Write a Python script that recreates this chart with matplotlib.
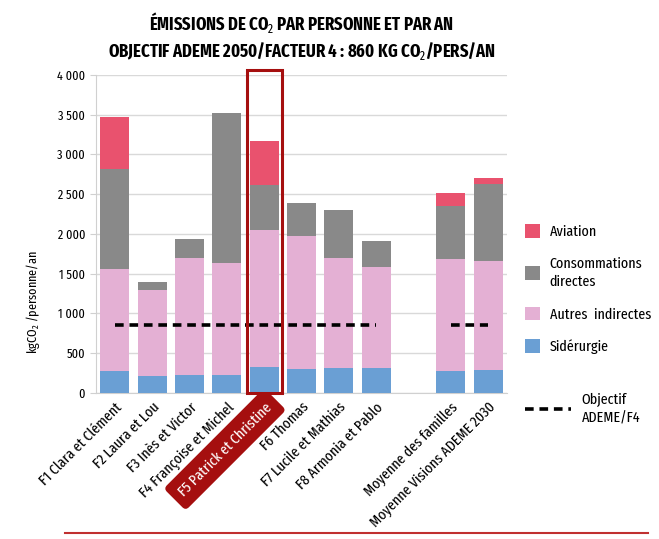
import matplotlib
matplotlib.use("Agg")
import matplotlib.pyplot as plt
from matplotlib.patches import Rectangle
from matplotlib.lines import Line2D
from matplotlib.ticker import FuncFormatter

FONT = "Fira Sans Extra Condensed"
plt.rcParams['font.family'] = [FONT, 'DejaVu Sans']
plt.rcParams['mathtext.fontset'] = 'custom'
plt.rcParams['mathtext.rm'] = FONT
plt.rcParams['mathtext.it'] = FONT
plt.rcParams['mathtext.bf'] = FONT + ':bold'

categories = ["F1 Clara et Clément", "F2 Laura et Lou", "F3 Inès et Victor",
              "F4 Françoise et Michel", "F5 Patrick et Christine", "F6 Thomas",
              "F7 Lucile et Mathias", "F8 Armonia et Pablo", "",
              "Moyenne des familles", "Moyenne Visions ADEME 2030"]
siderurgie = [280, 215, 225, 225, 330, 300, 315, 315, 0, 275, 290]
autres = [1280, 1080, 1470, 1405, 1725, 1680, 1385, 1270, 0, 1410, 1370]
consommations = [1255, 100, 235, 1890, 565, 410, 600, 325, 0, 670, 970]
aviation = [650, 0, 0, 0, 545, 0, 0, 0, 0, 155, 75]
objectif = [860, 860, 860, 860, 860, 860, 860, 860, None, 860, 860]

c_sid = "#6A9FD4"
c_aut = "#E4B0D4"
c_con = "#898989"
c_avi = "#E9526E"
c_red = "#A50F0F"

fig = plt.figure(figsize=(6.59, 5.39), dpi=100)
ax = fig.add_axes([0.146, 0.271, 0.623, 0.590])

x = list(range(len(categories)))
w = 0.78
b1 = siderurgie
b2 = [a + b for a, b in zip(b1, autres)]
b3 = [a + b for a, b in zip(b2, consommations)]
ax.bar(x, siderurgie, w, color=c_sid, label="Sidérurgie", zorder=3)
ax.bar(x, autres, w, bottom=b1, color=c_aut, label="Autres  indirectes", zorder=3)
ax.bar(x, consommations, w, bottom=b2, color=c_con, label="Consommations\ndirectes", zorder=3)
ax.bar(x, aviation, w, bottom=b3, color=c_avi, label="Aviation", zorder=3)

# objective line (gap at empty category)
seg1 = [(i, v) for i, v in enumerate(objectif[:8])]
seg2 = [(i + 9, v) for i, v in enumerate(objectif[9:])]
for k, seg in enumerate([seg1, seg2]):
    ax.plot([p[0] for p in seg], [p[1] for p in seg], color="black", lw=2.6,
            dashes=(2.4, 1.6), zorder=5, label="Objectif\nADEME/F4" if k == 0 else None)

ax.set_xlim(-0.5, 10.5)
ax.set_ylim(0, 4000)
ax.set_yticks(range(0, 4001, 500))
ax.yaxis.set_major_formatter(FuncFormatter(lambda v, p: f"{int(v):,}".replace(",", " ")))
ax.grid(axis="y", color="#D9D9D9", lw=1, zorder=0)
ax.set_axisbelow(True)
for s in ["top", "right"]:
    ax.spines[s].set_visible(False)
ax.spines["left"].set_color("#D0D0D0")
ax.spines["bottom"].set_color("#D0D0D0")
ax.tick_params(axis="y", length=4, color="#D0D0D0", labelsize=9.5, pad=4)
ax.tick_params(axis="x", length=0, labelsize=11, pad=5)
ax.set_ylabel(r"kgCO$_2$ /personne/an", fontsize=9.5)
ax.yaxis.set_label_coords(-0.131, 0.286)

ax.set_xticks(x)
ax.set_xticklabels(categories, rotation=45, ha="right", rotation_mode="anchor")
lbl = ax.get_xticklabels()[4]
lbl.set_color("white")
lbl.set_bbox(dict(boxstyle="round,pad=0.55,rounding_size=0.3", fc=c_red, ec="none"))

# highlight rectangle around F5
rect = Rectangle((4 - 0.47, 0), 0.94, 4065, fill=False, ec=c_red, lw=2.2,
                 clip_on=False, zorder=6)
ax.add_patch(rect)

# Title
fig.text(0.458, 0.958, r"ÉMISSIONS DE CO$_2$ PAR PERSONNE ET PAR AN",
         ha="center", va="center", fontsize=13, fontweight="bold")
fig.text(0.458, 0.905, r"OBJECTIF ADEME 2050/FACTEUR 4 : 860 KG CO$_2$/PERS/AN",
         ha="center", va="center", fontsize=13, fontweight="bold")

# Legends
h, l = ax.get_legend_handles_labels()
hd = dict(zip(l, h))
order = ["Aviation", "Consommations\ndirectes", "Autres  indirectes", "Sidérurgie"]
leg = fig.legend([hd[o] for o in order], order, loc="upper left",
                 bbox_to_anchor=(0.776, 0.61), frameon=False, fontsize=11,
                 handlelength=1.0, handleheight=1.0, handletextpad=0.6, labelspacing=1.15)
for t in leg.get_texts():
    t.set_linespacing(1.35)
leg2 = fig.legend([hd["Objectif\nADEME/F4"]], ["Objectif\nADEME/F4"], loc="upper left",
                  bbox_to_anchor=(0.776, 0.297), frameon=False, fontsize=11,
                  handlelength=3.0, handletextpad=0.7)
for t in leg2.get_texts():
    t.set_linespacing(1.35)

fig.add_artist(Line2D([0.099, 0.983], [0.011, 0.011], color="#C03030", lw=1.5))

fig.savefig("out.png", dpi=100)
